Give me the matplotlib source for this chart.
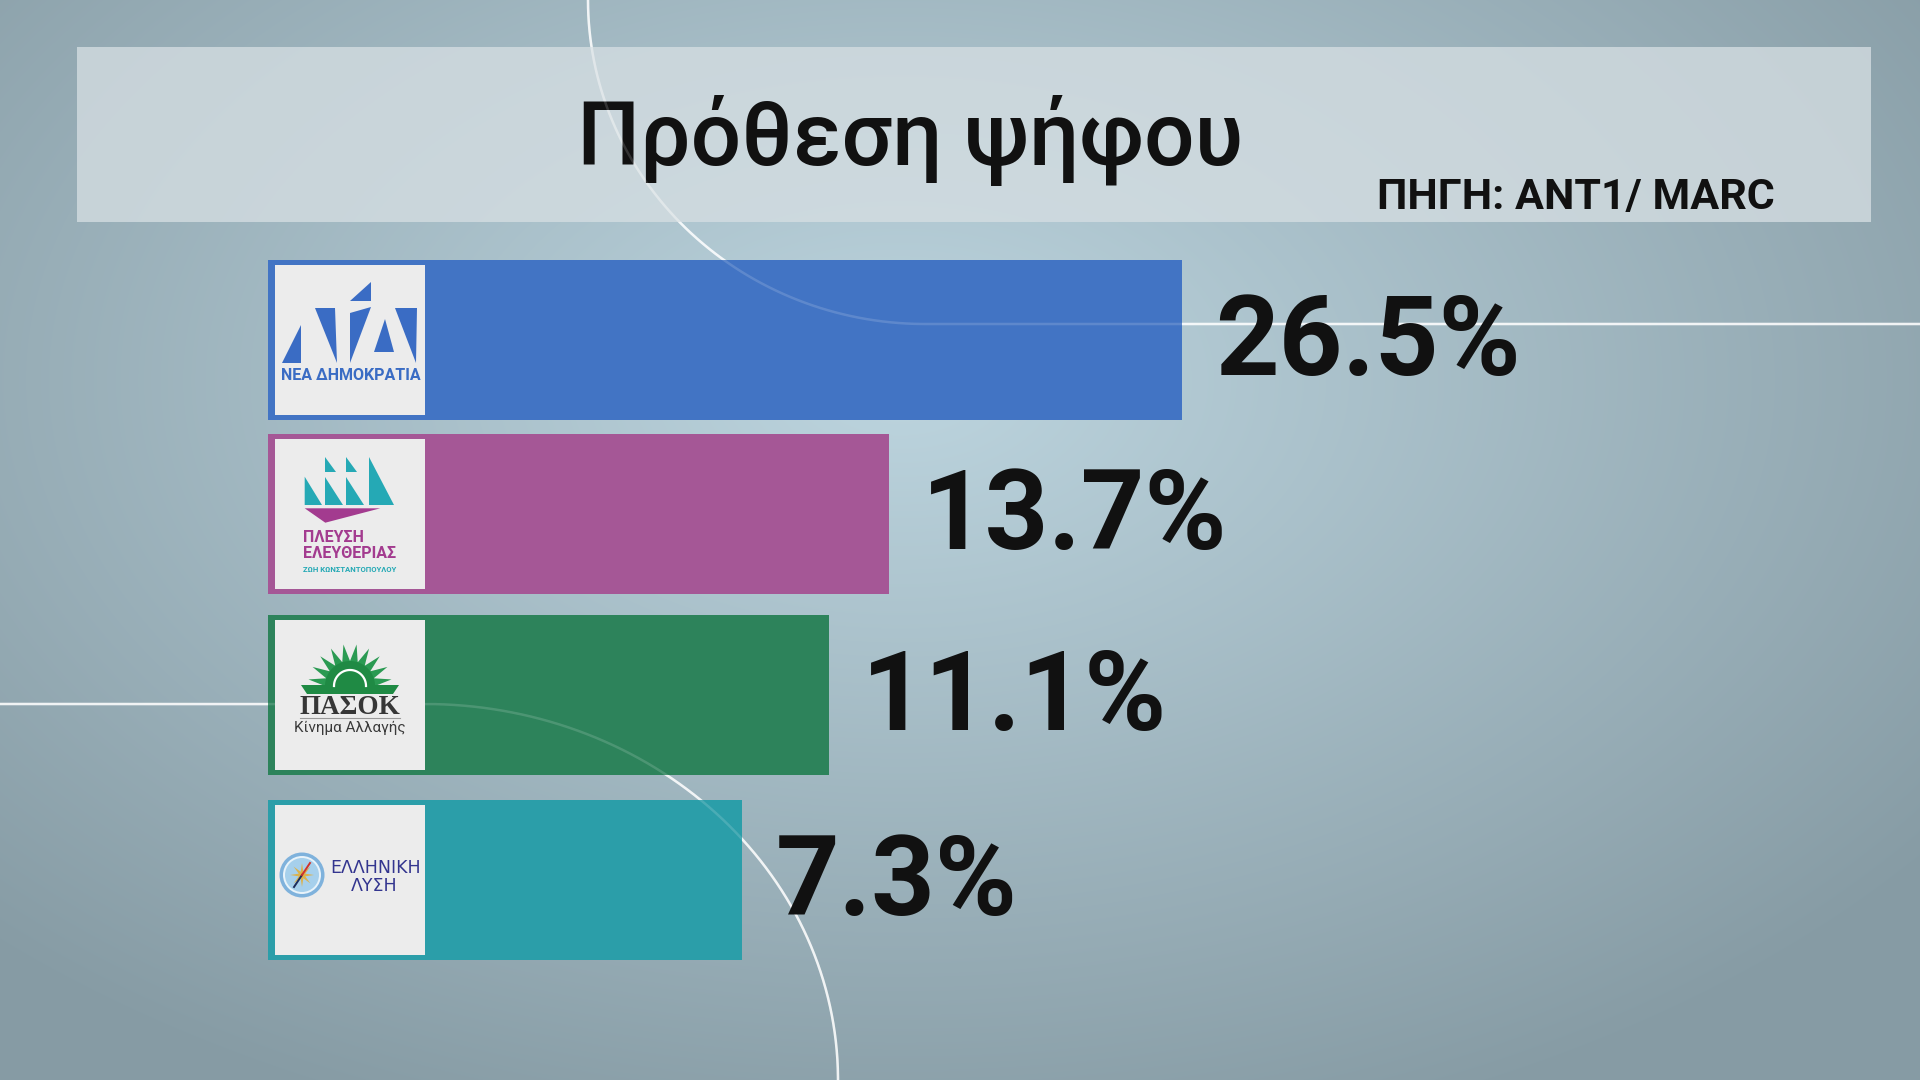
import matplotlib
matplotlib.use('Agg')
import matplotlib.pyplot as plt
from matplotlib.patches import Polygon, Circle, Rectangle
import numpy as np

plt.rcParams['font.family'] = ['Roboto', 'DejaVu Sans']

# data
parties = ['ΝΕΑ ΔΗΜΟΚΡΑΤΙΑ', 'ΠΛΕΥΣΗ ΕΛΕΥΘΕΡΙΑΣ', 'ΠΑΣΟΚ', 'ΕΛΛΗΝΙΚΗ ΛΥΣΗ']
values = [26.5, 13.7, 11.1, 7.3]
labels = ['26.5%', '13.7%', '11.1%', '7.3%']
colors = ['#4274c4', '#a55796', '#2d835b', '#2b9ea9']

title = 'Πρόθεση ψήφου'
source = 'ΠΗΓΗ: ΑΝΤ1/ MARC'

# layout (pixels, figure is 1920x1080)
W, H = 1920, 1080
ROW_Y = [340, 514, 695, 880]
BAR_H = 160
BAR_LEFT_PX = 268
PX_PER_PCT = 22.9
LOGO_PAD = 13.4          # room for the logo at the start of each bar, in % units
LOGO_SIZE = 150

fig = plt.figure(figsize=(19.2, 10.8), dpi=100)

# --------------------------------------------------
# background
# --------------------------------------------------
ax_bg = fig.add_axes([0, 0, 1, 1])
ax_bg.set_xlim(0, W)
ax_bg.set_ylim(H, 0)
ax_bg.axis('off')

yy, xx = np.mgrid[0:H, 0:W]
d = np.sqrt(((xx - 900) / 1300.0) ** 2 + ((yy - 380) / 800.0) ** 2)
d = np.clip(d, 0, 1)[..., None]
c0 = np.array([0xbd, 0xd5, 0xdf]) / 255.0
c1 = np.array([0x86, 0x9b, 0xa4]) / 255.0
ax_bg.imshow(c0 + (c1 - c0) * d, extent=(0, W, H, 0), aspect='auto', zorder=0)

# decorative white curves
t = np.linspace(0, np.pi / 2, 200)
curve1_x = np.concatenate([925 - 337 * np.cos(t), [W]])
curve1_y = np.concatenate([324 * np.sin(t), [324]])
curve2_x = np.concatenate([[0], 425 + 413 * np.sin(t)])
curve2_y = np.concatenate([[704], 1080 - 376 * np.cos(t)])
for cx, cy in [(curve1_x, curve1_y), (curve2_x, curve2_y)]:
    ax_bg.plot(cx, cy, color='white', lw=1.8, alpha=0.85, zorder=1)

# title banner
ax_bg.add_patch(Rectangle((77, 47), 1794, 175, facecolor='#d5dee2', alpha=0.78,
                          edgecolor='none', zorder=2))
ax_bg.text(910, 165, title, ha='center', va='baseline', fontsize=64,
           fontweight='medium', color='#111111', zorder=3)
ax_bg.text(1775, 209, source, ha='right', va='baseline', fontsize=31,
           fontweight='bold', color='#111111', zorder=3)

# --------------------------------------------------
# bars
# --------------------------------------------------
ax = fig.add_axes([0, 0, 1, 1])
ax.patch.set_alpha(0)
x0 = -LOGO_PAD - BAR_LEFT_PX / PX_PER_PCT
ax.set_xlim(x0, x0 + W / PX_PER_PCT)
ax.set_ylim(H, 0)
ax.axis('off')

widths = [v + LOGO_PAD for v in values]
ax.barh(ROW_Y, widths, left=-LOGO_PAD, height=BAR_H, color=colors, zorder=2)

# faint continuation of the curves over the bars
for cx, cy in [(curve1_x, curve1_y), (curve2_x, curve2_y)]:
    ax.plot(cx, cy, color='white', lw=1.8, alpha=0.15, zorder=3,
            transform=ax_bg.transData)

for v, y, lab in zip(values, ROW_Y, labels):
    ax.annotate(lab, xy=(v, y + 35), xytext=(24, 0), textcoords='offset points',
                ha='left', va='baseline', fontsize=80, fontweight='bold',
                color='#111111', zorder=5)


# --------------------------------------------------
# logos (drawn in a 150x150 box, y downwards)
# --------------------------------------------------
def tri(lx, pts, color):
    lx.add_patch(Polygon(pts, closed=True, facecolor=color, edgecolor='none'))


def logo_nd(lx):
    blue = '#3a6cc4'
    shapes = [
        [(7, 98), (26, 60), (26, 98)],
        [(40, 43), (60, 43), (62, 98)],
        [(75, 48), (96, 42), (75, 98)],
        [(75, 36), (96, 17), (96, 36)],
        [(99, 87), (119, 87), (110, 54)],
        [(120, 43), (142, 43), (141, 98)],
    ]
    for s in shapes:
        tri(lx, s, blue)
    lx.text(76, 111, 'ΝΕΑ ΔΗΜΟΚΡΑΤΙΑ', ha='center', va='center', fontsize=11.5,
            fontweight='bold', color=blue)


def logo_plefsi(lx):
    teal = '#25a9b5'
    mag = '#a33b8f'
    sails = [
        [(29.7, 66), (29.7, 37.7), (47, 66)],
        [(50.3, 17.7), (50.3, 33.3), (61, 33.3)],
        [(50.3, 37.7), (50.3, 66), (67.7, 66)],
        [(71.3, 17.7), (71.3, 33.3), (82, 33.3)],
        [(71.3, 37.7), (71.3, 66), (88.7, 66)],
        [(93.7, 17.7), (93.7, 66), (118.7, 66)],
    ]
    for s in sails:
        tri(lx, s, teal)
    tri(lx, [(29.7, 69.3), (105.3, 69.3), (50.3, 83.7)], mag)
    lx.text(28, 99, 'ΠΛΕΥΣΗ', ha='left', va='center', fontsize=11.5,
            fontweight='bold', color=mag)
    lx.text(28, 115, 'ΕΛΕΥΘΕΡΙΑΣ', ha='left', va='center', fontsize=11.5,
            fontweight='bold', color=mag)
    lx.text(28, 131, 'ΖΩΗ ΚΩΝΣΤΑΝΤΟΠΟΥΛΟΥ', ha='left', va='center',
            fontsize=5.6, fontweight='bold', color=teal)


def logo_pasok(lx):
    green = '#1f8a44'
    cx, cy = 75, 66
    n = 10
    ang = np.linspace(np.pi, 0, 2 * n + 1)
    rad = np.where(np.arange(2 * n + 1) % 2 == 1, 42, 25)
    pts = [(cx + r * np.cos(a), cy - r * np.sin(a)) for a, r in zip(ang, rad)]
    tri(lx, pts, '#2a9a52')
    a = np.linspace(np.pi, 0, 60)
    tri(lx, [(cx + 25 * np.cos(k), cy - 25 * np.sin(k)) for k in a], green)
    lx.plot(cx + 16 * np.cos(a), cy - 16 * np.sin(a), color='white', lw=1.6)
    tri(lx, [(26, 65), (124, 65), (118, 74), (32, 74)], green)
    lx.text(75, 87, 'ΠΑΣΟΚ', ha='center', va='center', fontsize=19.5,
            fontweight='bold', family='Liberation Serif', color='#363636')
    lx.plot([25, 125], [98, 98], color='#9a9a9a', lw=0.8)
    lx.text(75, 108, 'Κίνημα Αλλαγής', ha='center', va='center', fontsize=11,
            color='#3a3a3a')


def logo_lysi(lx):
    navy = '#33358f'
    cx, cy = 27, 70
    lx.add_patch(Circle((cx, cy), 22.5, facecolor='#7fb2dc', edgecolor='none'))
    lx.add_patch(Circle((cx, cy), 19, facecolor='#e8f3fa', edgecolor='none'))
    lx.add_patch(Circle((cx, cy), 17, facecolor='#a6d0ec', edgecolor='none'))
    a = np.linspace(0, 2 * np.pi, 17)[:-1]
    rad = np.where(np.arange(16) % 2 == 0, 12, 3.5)
    tri(lx, [(cx + r * np.cos(k), cy - r * np.sin(k)) for k, r in zip(a, rad)],
        '#dcb24c')
    lx.plot([cx - 8, cx], [cy + 12, cy], color='#1d2b5a', lw=1.4)
    lx.plot([cx, cx + 8], [cy, cy - 12], color='#d0332c', lw=1.4)
    lx.text(101, 63, 'ΕΛΛΗΝΙΚΗ', ha='center', va='center', fontsize=12.5,
            family='DejaVu Sans', color=navy)
    lx.text(99, 81, 'ΛΥΣΗ', ha='center', va='center', fontsize=12.5,
            family='DejaVu Sans', color=navy)


logo_funcs = [logo_nd, logo_plefsi, logo_pasok, logo_lysi]

for y, draw in zip(ROW_Y, logo_funcs):
    px, py = ax.transData.transform((-LOGO_PAD, y - BAR_H / 2))
    # py is the top edge in display coords (y up)
    left = (px + 7) / W
    bottom = (py - 5 - LOGO_SIZE) / H
    lx = fig.add_axes([left, bottom, LOGO_SIZE / W, LOGO_SIZE / H])
    lx.set_xlim(0, LOGO_SIZE)
    lx.set_ylim(LOGO_SIZE, 0)
    lx.set_facecolor('#ececec')
    lx.set_xticks([])
    lx.set_yticks([])
    for s in lx.spines.values():
        s.set_visible(False)
    draw(lx)

fig.savefig('out.png', dpi=100)
